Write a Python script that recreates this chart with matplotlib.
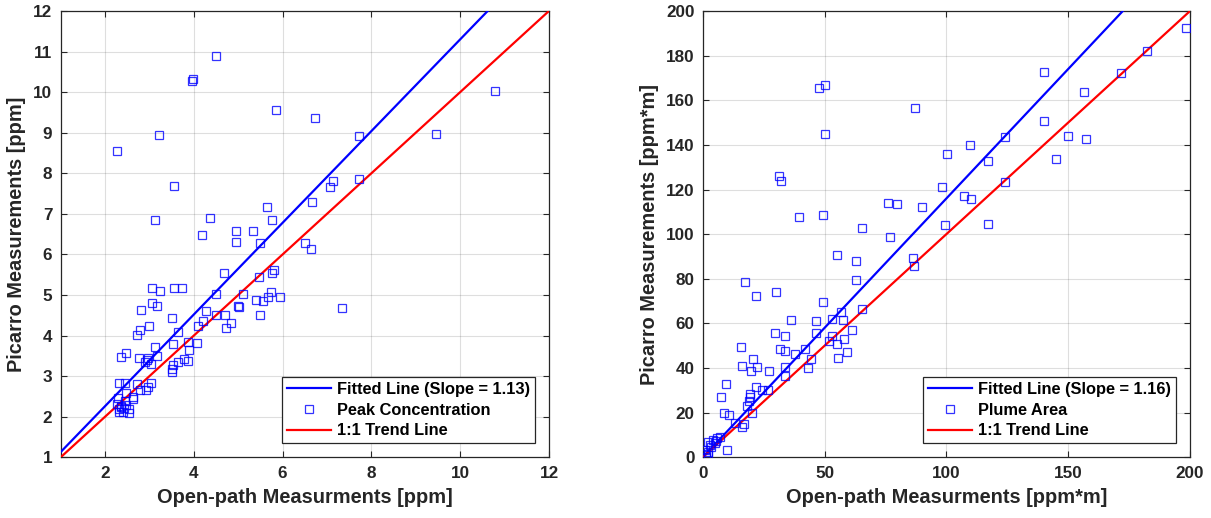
import matplotlib
matplotlib.use("Agg")
import matplotlib.pyplot as plt
import numpy as np

plt.rcParams['font.family'] = ['Liberation Sans', 'DejaVu Sans']
plt.rcParams['font.weight'] = 'bold'

# peak concentration pairs (open-path vs picarro), ppm
peak_open = [4.49, 3.98, 3.96, 10.79, 5.86, 6.73, 3.21, 9.45, 7.71, 2.27,
             3.55, 7.14, 7.07, 7.73, 6.66, 5.65, 3.12, 4.37, 5.75, 4.19,
             4.96, 5.34, 4.96, 5.50, 6.50, 6.63, 4.67, 5.47, 5.76, 5.81,
             3.06, 3.23, 3.55, 3.73, 4.49, 5.11, 3.06, 3.18, 5.40, 5.56,
             5.66, 5.73, 5.93, 4.99, 5.02, 7.34, 2.82, 4.27, 3.50, 4.49,
             4.71, 5.50, 4.20, 4.84, 4.09, 4.72, 3.00, 2.79, 2.73, 3.65,
             3.87, 4.06, 3.53, 3.12, 3.17, 2.47, 2.37, 2.76, 2.97, 2.94,
             3.03, 2.90, 3.78, 3.87, 3.64, 3.53, 3.51, 3.51, 2.31, 2.46,
             2.72, 3.03, 2.97, 2.92, 2.79, 2.47, 2.64, 2.62, 2.30, 2.27,
             2.37, 2.32, 2.43, 2.41, 2.53, 2.55, 2.31, 2.45, 2.47, 2.37,
             3.88]
peak_picarro = [10.90, 10.33, 10.28, 10.02, 9.55, 9.37, 8.95, 8.97, 8.92, 8.55,
                7.68, 7.82, 7.65, 7.87, 7.29, 7.17, 6.84, 6.89, 6.86, 6.49,
                6.58, 6.58, 6.30, 6.27, 6.27, 6.14, 5.54, 5.45, 5.54, 5.61,
                5.17, 5.11, 5.17, 5.17, 5.03, 5.03, 4.81, 4.74, 4.88, 4.86,
                4.94, 5.08, 4.94, 4.74, 4.71, 4.69, 4.63, 4.60, 4.44, 4.50,
                4.50, 4.50, 4.36, 4.30, 4.24, 4.19, 4.24, 4.14, 4.02, 4.09,
                3.84, 3.82, 3.79, 3.73, 3.50, 3.58, 3.48, 3.45, 3.44, 3.40,
                3.29, 3.36, 3.42, 3.38, 3.36, 3.27, 3.18, 3.10, 2.84, 2.84,
                2.81, 2.84, 2.74, 2.66, 2.66, 2.58, 2.49, 2.44, 2.45, 2.32,
                2.27, 2.18, 2.22, 2.11, 2.19, 2.09, 2.12, 2.39, 2.29, 2.25,
                3.64]

# plume area pairs (open-path vs picarro), ppm*m
area_open = [198.2, 182.2, 171.7, 140.2, 50.2, 47.9, 156.5, 87.1, 140.2, 50.2,
             149.9, 157.5, 124.2, 109.7, 100.3, 144.9, 117.2, 31.4, 32.0, 124.2,
             98.1, 107.4, 110.1, 75.9, 79.6, 90.1, 39.4, 49.2, 65.3, 99.4,
             117.2, 76.9, 55.0, 62.8, 86.3, 86.7, 62.8, 17.5, 21.7, 30.1,
             49.4, 65.2, 56.8, 36.2, 46.5, 52.9, 57.7, 61.4, 29.5, 33.8,
             46.4, 53.2, 52.0, 55.0, 58.1, 59.1, 55.4, 15.6, 31.9, 33.8,
             41.9, 38.0, 44.3, 20.6, 16.0, 22.3, 19.7, 27.2, 33.9, 33.9,
             43.2, 9.6, 7.6, 21.9, 19.4, 19.4, 19.1, 18.1, 24.2, 26.7,
             8.6, 10.9, 20.4, 13.3, 16.9, 16.0, 9.8, 2.3, 4.4, 7.1,
             5.7, 3.0, 5.0, 2.3, 2.0, 0.9, 5.4, 1.2, 3.3, 1.5]
area_picarro = [192.4, 182.1, 172.4, 172.8, 166.7, 165.6, 163.6, 156.5, 150.8, 144.7,
                144.1, 142.8, 143.7, 140.1, 135.9, 133.8, 132.9, 126.2, 124.0, 123.2,
                121.1, 117.0, 115.9, 113.8, 113.4, 112.3, 107.7, 108.7, 102.6, 104.1,
                104.7, 98.6, 90.7, 88.0, 89.3, 85.9, 79.5, 78.4, 72.4, 74.2,
                69.7, 66.5, 65.0, 61.5, 61.1, 61.8, 61.5, 56.9, 55.9, 54.4,
                55.9, 54.4, 52.1, 50.8, 52.9, 47.2, 44.6, 49.6, 48.7, 47.8,
                48.5, 46.2, 44.1, 44.1, 41.1, 40.6, 38.5, 38.5, 40.6, 36.4,
                39.9, 32.8, 27.2, 31.4, 28.4, 27.2, 25.4, 23.1, 30.2, 30.2,
                20.0, 19.0, 20.0, 15.5, 14.9, 13.4, 3.1, 7.0, 7.8, 9.2,
                8.5, 5.5, 6.3, 2.5, 1.0, 3.3, 7.3, 0.3, 4.8, 1.5]

slope_peak = 1.13
slope_area = 1.16

txt = '#262626'


def panel(ax, xo, yp, slope, name, lim, ticks, xlabel, ylabel):
    xs = np.array(lim, dtype=float)
    ax.plot(xs, slope * xs, color='#0000ff', lw=1.6,
            label='Fitted Line (Slope = %.2f)' % slope, zorder=3)
    ax.plot(xo, yp, ls='none', marker='s', ms=6, mfc='none', mec='#0000ff',
            mew=0.9, alpha=0.8, label=name, zorder=4)
    ax.plot(xs, xs, color='#ff0000', lw=1.6, label='1:1 Trend Line', zorder=3)

    ax.set_xlim(lim)
    ax.set_ylim(lim)
    ax.set_xticks(ticks[0])
    ax.set_yticks(ticks[1])
    ax.grid(True, color=txt, alpha=0.15, lw=0.8)
    ax.set_axisbelow(True)
    ax.tick_params(direction='in', top=True, right=True, length=4,
                   width=0.8, colors=txt, labelsize=12.3, pad=6)
    for s in ax.spines.values():
        s.set_color(txt)
        s.set_linewidth(0.9)
    ax.set_xlabel(xlabel, fontsize=14.4, fontweight='bold', color=txt, labelpad=5)
    ax.set_ylabel(ylabel, fontsize=14.4, fontweight='bold', color=txt, labelpad=5)

    leg = ax.legend(loc='lower right', fontsize=11.8, fancybox=False,
                    framealpha=1, edgecolor=txt, handlelength=2.7,
                    handletextpad=0.35, borderaxespad=0.85, borderpad=0.3,
                    labelspacing=0.35)
    leg.get_frame().set_linewidth(0.9)
    for t in leg.get_texts():
        t.set_color('black')


fig = plt.figure(figsize=(12.11, 5.18), dpi=100)
ax1 = fig.add_axes([0.0501, 0.1172, 0.4032, 0.8616])
ax2 = fig.add_axes([0.5803, 0.1172, 0.4024, 0.8616])

panel(ax1, peak_open, peak_picarro, slope_peak, 'Peak Concentration', [1, 12],
      (range(2, 13, 2), range(1, 13)),
      'Open-path Measurments [ppm]', 'Picarro Measurements [ppm]')
panel(ax2, area_open, area_picarro, slope_area, 'Plume Area', [0, 200],
      (range(0, 201, 50), range(0, 201, 20)),
      'Open-path Measurments [ppm*m]', 'Picarro Measurements [ppm*m]')

fig.savefig('out.png', dpi=100)
